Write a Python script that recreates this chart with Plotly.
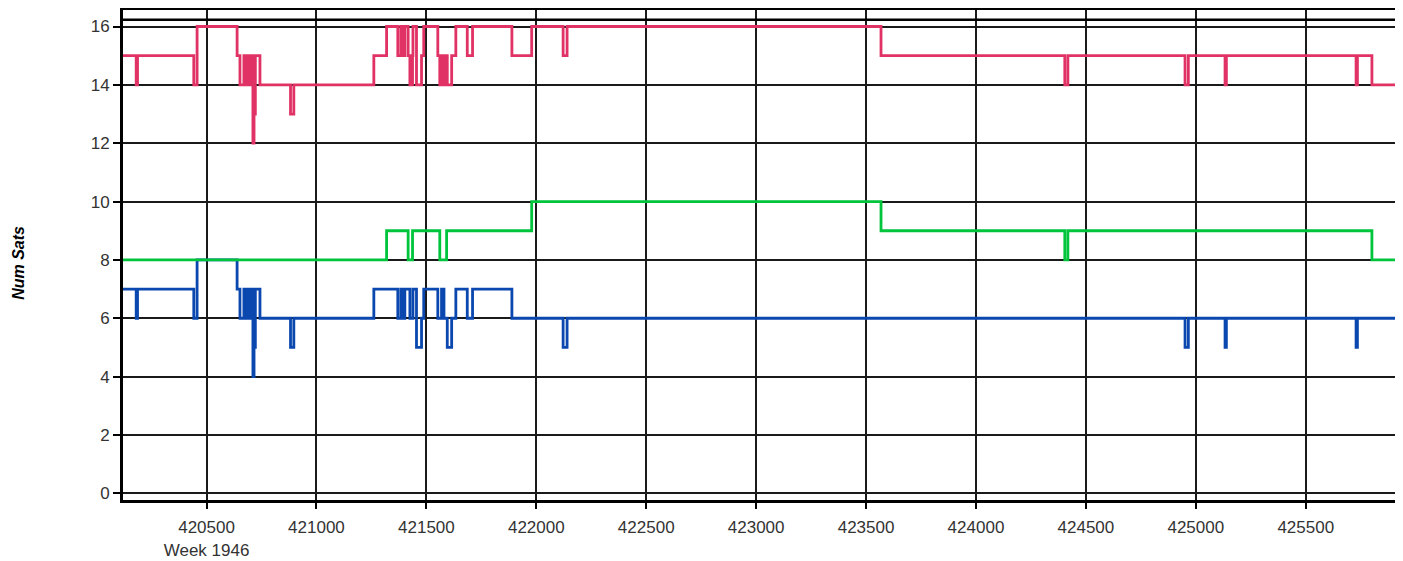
import plotly.graph_objects as go

# ---- data (GPS time of week, number of satellites) ----
x_start = 420120
x_end = 425906

total_t = [420120, 420180, 420186, 420442, 420457, 420639, 420652, 420670, 420676, 420682,
           420688, 420693, 420699, 420704, 420711, 420716, 420722, 420743, 420882, 420897,
           421261, 421319, 421370, 421384, 421393, 421402, 421417, 421425, 421437, 421439,
           421455, 421478, 421488, 421552, 421561, 421569, 421580, 421592, 421595, 421615,
           421634, 421686, 421710, 421889, 421979, 422122, 422140, 423568, 424404, 424418,
           424951, 424966, 425133, 425139, 425729, 425735, 425801]
total_v = [15, 14, 15, 14, 16, 15, 14, 15, 14, 15,
           14, 15, 14, 15, 12, 13, 15, 14, 13, 14,
           15, 16, 15, 16, 15, 16, 15, 14, 15, 16,
           14, 15, 16, 15, 14, 15, 14, 15, 14, 15,
           16, 15, 16, 15, 16, 15, 16, 15, 14, 15,
           14, 15, 14, 15, 14, 15, 14]

green_t = [420120, 421319, 421417, 421437, 421561, 421592, 421979, 423568, 424404, 424418, 425801]
green_v = [8, 9, 8, 9, 8, 9, 10, 9, 8, 9, 8]

blue_t = [420120, 420180, 420186, 420442, 420457, 420639, 420652, 420670, 420676, 420682,
          420688, 420693, 420699, 420704, 420711, 420716, 420722, 420743, 420882, 420897,
          421261, 421370, 421384, 421393, 421402, 421425, 421439, 421455, 421478, 421488,
          421552, 421569, 421580, 421595, 421615, 421634, 421686, 421710, 421889, 422122,
          422140, 424951, 424966, 425133, 425139, 425729, 425735]
blue_v = [7, 6, 7, 6, 8, 7, 6, 7, 6, 7,
          6, 7, 6, 7, 4, 5, 7, 6, 5, 6,
          7, 6, 7, 6, 7, 6, 7, 5, 6, 7,
          6, 7, 6, 5, 6, 7, 6, 7, 6, 5,
          6, 5, 6, 5, 6, 5, 6]

x_tickvals = [420500, 421000, 421500, 422000, 422500, 423000, 423500, 424000, 424500, 425000, 425500]
x_ticktext = ["420500<br>Week 1946", "421000", "421500", "422000", "422500", "423000",
              "423500", "424000", "424500", "425000", "425500"]
y_tickvals = [0, 2, 4, 6, 8, 10, 12, 14, 16]

series = [
    (total_t, total_v, "#E03264"),
    (blue_t, blue_v, "#0A47AE"),
    (green_t, green_v, "#00C43C"),
]

fig = go.Figure()
for t, v, c in series:
    fig.add_trace(go.Scatter(
        x=list(t) + [x_end], y=list(v) + [v[-1]],
        mode="lines", line=dict(shape="hv", color=c, width=2.8),
        hoverinfo="skip", showlegend=False))

font = dict(family="Liberation Sans, Arial, sans-serif", size=17, color="#333333")

# page body has an 8px margin, so the figure is offset by (8, 8)
fig.update_layout(
    width=1403, height=561,
    margin=dict(l=115, r=16, t=2, b=69, autoexpand=False),
    paper_bgcolor="white", plot_bgcolor="white",
    font=font,
    showlegend=False,
)
fig.update_xaxes(
    range=[x_start, x_end], tickvals=x_tickvals, ticktext=x_ticktext,
    showgrid=True, gridcolor="#1a1a1a", gridwidth=1.5,
    showline=True, linecolor="black", linewidth=3, mirror=True,
    ticks="outside", ticklen=6, tickcolor="black", tickwidth=1.5,
    ticklabelstandoff=4,
    zeroline=False, tickfont=font, automargin=False,
)
fig.update_yaxes(
    range=[-0.23, 16.566], tickvals=y_tickvals,
    showgrid=True, gridcolor="#1a1a1a", gridwidth=1.5,
    showline=True, linecolor="black", linewidth=3, mirror=True,
    ticks="outside", ticklen=7, tickcolor="black", tickwidth=1.5,
    zeroline=False, tickfont=font, automargin=False,
)
# inner top rule of the frame
fig.add_shape(type="line", xref="paper", x0=0, x1=1, yref="y", y0=16.23, y1=16.23,
              line=dict(color="black", width=2.5))
fig.add_annotation(
    text="<b><i>Num Sats</i></b>", xref="paper", yref="paper",
    x=(19 - 123) / 1272, y=0.484, textangle=-90, showarrow=False,
    xanchor="center", yanchor="middle",
    font=dict(family="Liberation Sans, Arial, sans-serif", size=16, color="black"),
)

fig.write_html("out.html")
